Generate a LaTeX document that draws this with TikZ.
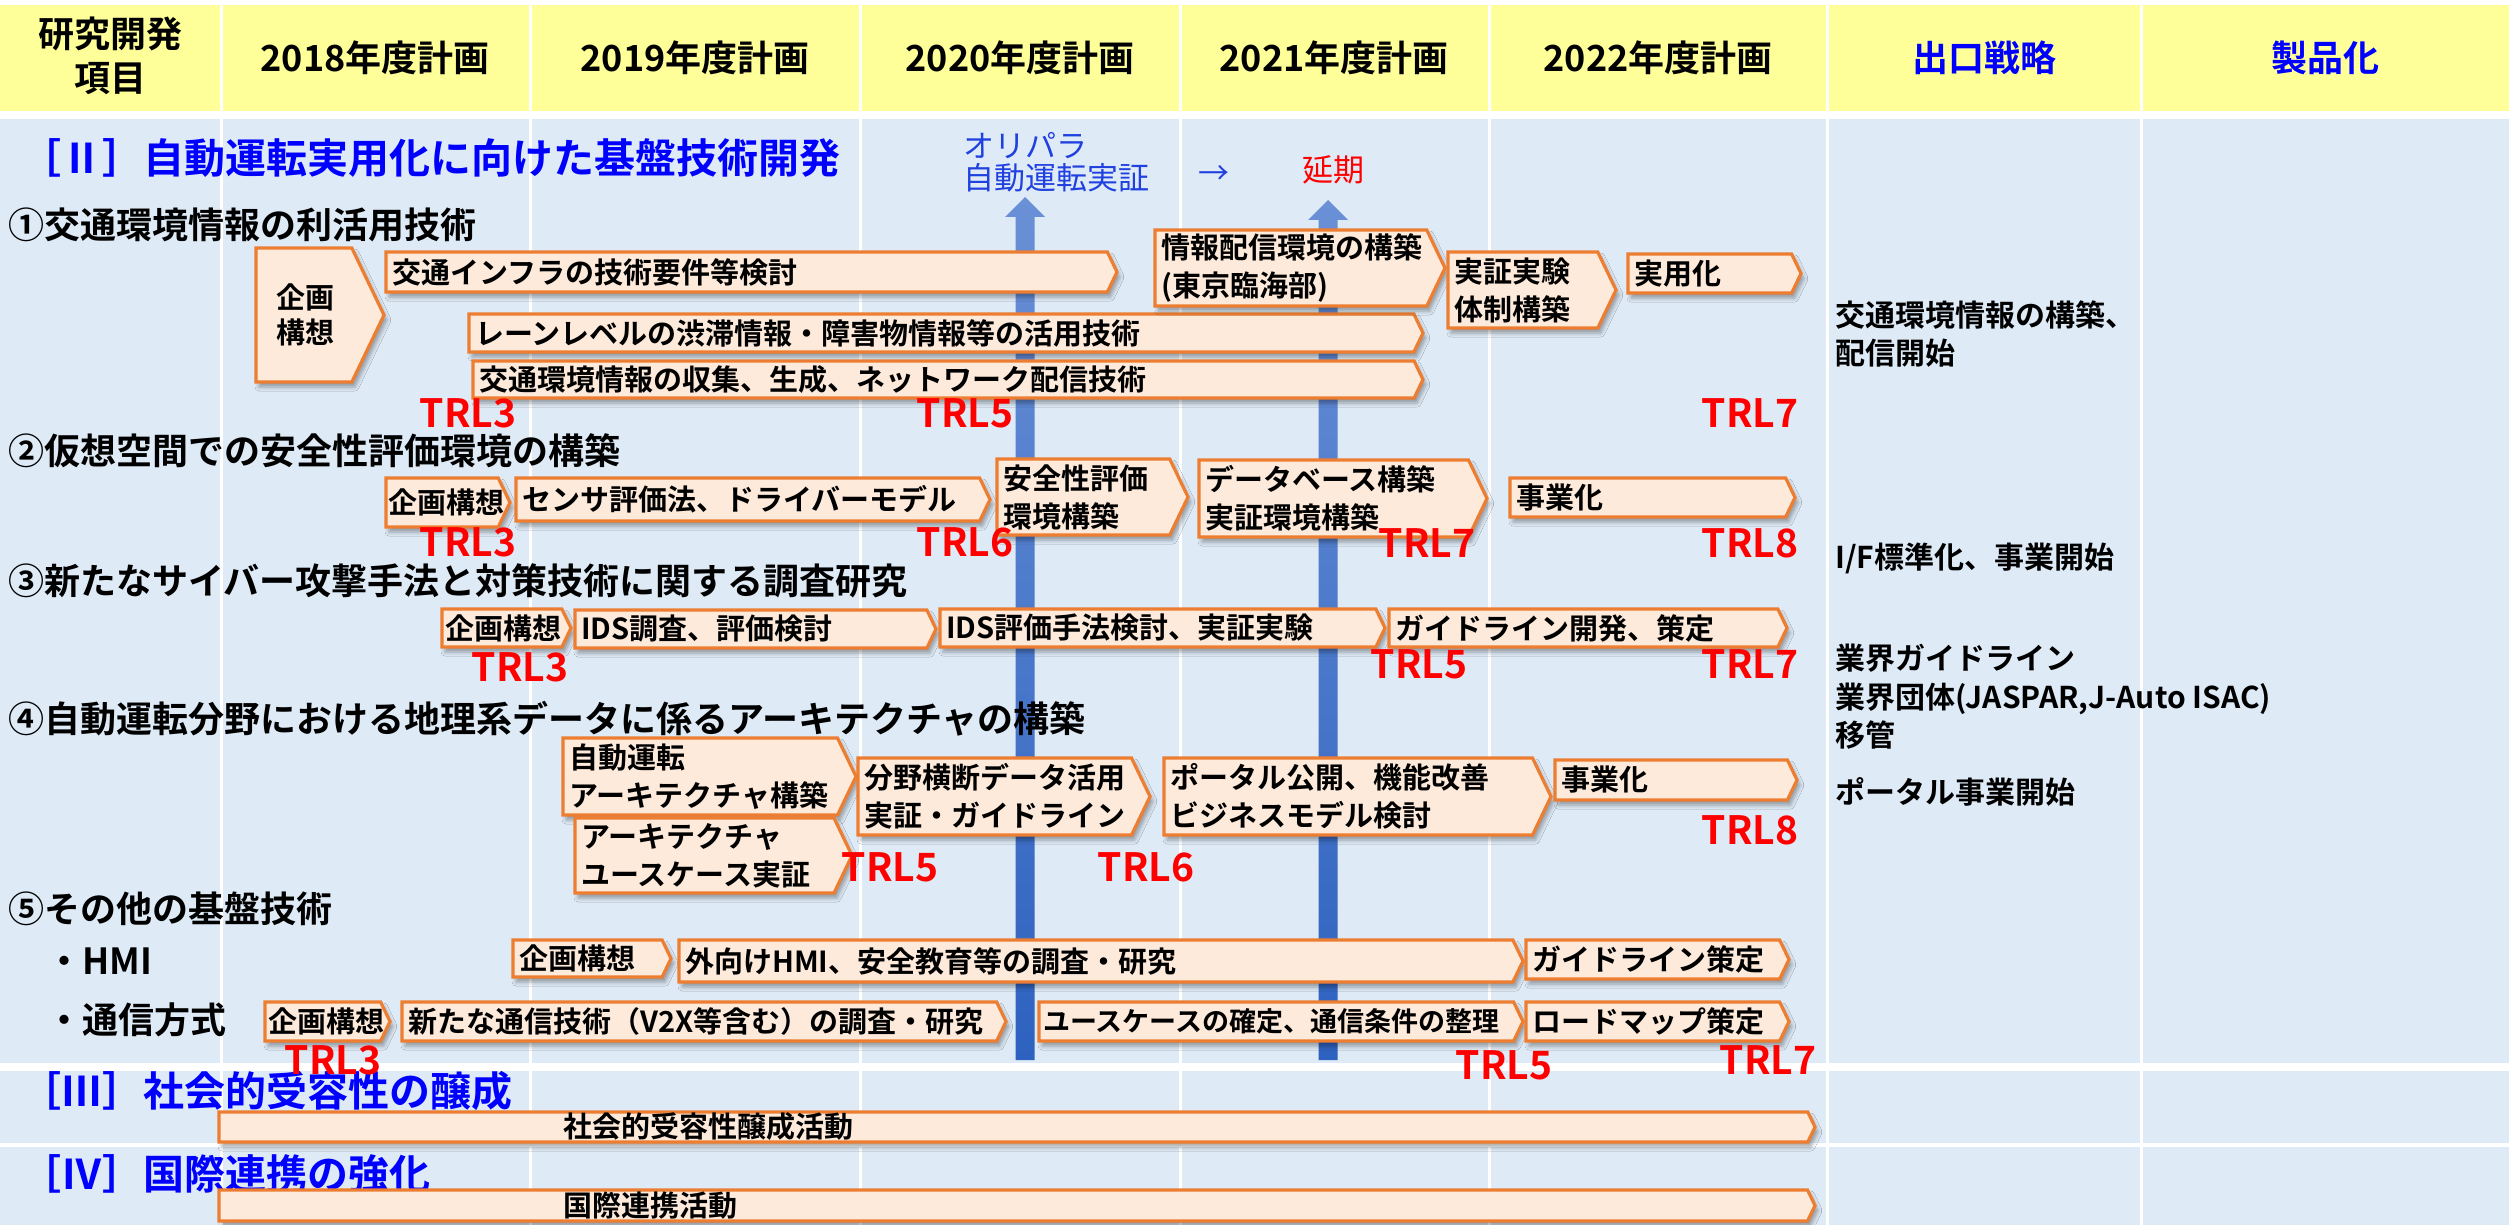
\documentclass[tikz,border=0pt]{standalone}
\usepackage{fontspec}
\setmainfont{Noto Sans CJK JP}[BoldFont={Noto Sans CJK JP Bold}]
\usetikzlibrary{shadows.blur}
\definecolor{hdr}{HTML}{FFFF99}
\definecolor{bodybg}{HTML}{DEEAF6}
\definecolor{pfill}{HTML}{FDEADA}
\definecolor{pedge}{HTML}{ED7D31}
\definecolor{trlred}{HTML}{FF0000}
\definecolor{ttlblue}{HTML}{0000FF}
\definecolor{olyblue}{HTML}{2040E0}
\definecolor{arrowtop}{HTML}{6A90D6}
\definecolor{arrowbot}{HTML}{2E62C0}
\newcommand\fsz[2]{\fontsize{#1}{#2}\selectfont}
\newcommand\pbox[7]{%
  \pgfmathsetmacro\pbTip{0.24*(#5-#3)}%
  \pgfmathsetmacro\pbMid{(#3+#5)/2}%
  \path[pboxshape] (#2,#3) -- ({#4-\pbTip},#3) -- (#4,\pbMid) -- ({#4-\pbTip},#5) -- (#2,#5) -- cycle;
  \node[btext,#7] (#1) at (#2,\pbMid) {#6};
}
\begin{document}
\begin{tikzpicture}[x=1pt,y=-1pt,
  pboxshape/.style={fill=pfill, draw=pedge, line width=3.2pt,
    blur shadow={shadow xshift=3pt, shadow yshift=-5pt, shadow blur radius=4pt, shadow opacity=35}},
  btext/.style={anchor=west, inner xsep=6pt, inner ysep=0pt, align=left, font=\bfseries\fsz{29}{38}},
  trl/.style={text=trlred, font=\bfseries\fsz{39}{39}, inner sep=0pt},
  sechead/.style={anchor=west, font=\bfseries\fsz{36}{40}, inner sep=0pt},
  ttl/.style={anchor=west, text=ttlblue, font=\bfseries\fsz{41}{44}, inner sep=0pt},
  exitt/.style={anchor=west, align=left, font=\bfseries\fsz{30}{38.5}, inner sep=0pt},
  hdrt/.style={align=center, font=\bfseries\fsz{36}{44}, inner sep=0pt},
  vline/.style={fill=white},
  upbar/.style={top color=arrowtop, bottom color=arrowbot}
]
\useasboundingbox (0,0) rectangle (2509,1225);
% background grid
\fill[white] (0,0) rectangle (2509,1225);
\fill[hdr] (0,5) rectangle (2509,111);
\fill[bodybg] (0,119) rectangle (2509,1225);
\foreach \x in {221,530,860,1180,1489,1827,2141}
  \fill[vline] (\x-1.5,5) rectangle (\x+1.5,1225);
\fill[vline] (0,1063) rectangle (2509,1071);
\fill[vline] (0,1143) rectangle (2509,1147);

% header
\node[hdrt] (h0) at (110,56) {研究開発\\項目};
\node[hdrt] (h1) at (375,58) {2018年度計画};
\node[hdrt] (h2) at (695,58) {2019年度計画};
\node[hdrt] (h3) at (1020,58) {2020年度計画};
\node[hdrt] (h4) at (1334,58) {2021年度計画};
\node[hdrt] (h5) at (1658,58) {2022年度計画};
\node[hdrt, text=ttlblue] (h6) at (1984,58) {出口戦略};
\node[hdrt, text=ttlblue] (h7) at (2325,58) {製品化};

% vertical milestone arrows
\shade[upbar] (1015.5,1060) -- (1015.5,217) -- (1005,217) -- (1025,197) -- (1045,217) -- (1034.5,217) -- (1034.5,1060) -- cycle;
\shade[upbar] (1318.5,1060) -- (1318.5,220) -- (1308,220) -- (1328,200) -- (1348,220) -- (1337.5,220) -- (1337.5,1060) -- cycle;
\node[anchor=west, align=left, text=olyblue, font=\fsz{31}{32}, inner sep=0pt] (oly) at (963,162) {オリパラ\\自動運転実証};
\node[text=olyblue, font=\fsz{31}{32}, inner sep=0pt] (arr) at (1214,175) {→};
\node[text=trlred, font=\fsz{31}{32}, inner sep=0pt] (enki) at (1333,170) {延期};

% titles and section headings
\node[ttl] (t2) at (20,158) {［Ⅱ］自動運転実用化に向けた基盤技術開発};
\node[sechead] (s1) at (8,225) {①交通環境情報の利活用技術};
\node[sechead] (s2) at (8,451) {②仮想空間での安全性評価環境の構築};
\node[sechead] (s3) at (8,581) {③新たなサイバー攻撃手法と対策技術に関する調査研究};
\node[sechead] (s4) at (8,719) {④自動運転分野における地理系データに係るアーキテクチャの構築};
\node[sechead] (s5) at (8,909) {⑤その他の基盤技術};
\node[sechead] (s5a) at (46,961) {・HMI};
\node[sechead] (s5b) at (46,1020) {・通信方式};
\node[ttl] (t3) at (20,1091) {［Ⅲ］社会的受容性の醸成};
\node[ttl] (t4) at (20,1174) {［Ⅳ］国際連携の強化};

% row 1
\pbox{a1}{256}{248}{384}{382}{企画\\構想}{anchor=center, xshift=49pt, align=center, font=\bfseries\fsz{29}{35}}
\pbox{a2}{386}{252}{1117}{292}{交通インフラの技術要件等検討}{}
\pbox{a3}{469}{314}{1423}{352}{レーンレベルの渋滞情報・障害物情報等の活用技術}{}
\pbox{a4}{473}{361}{1423}{398}{交通環境情報の収集、生成、ネットワーク配信技術}{}
\pbox{a5}{1155}{230}{1445}{306}{情報配信環境の構築\\(東京臨海部)}{}
\pbox{a6}{1448}{252}{1616}{328}{実証実験\\体制構築}{}
\pbox{a7}{1628}{254}{1801}{293}{実用化}{}

% row 2
\pbox{b1}{386}{478}{510}{527}{企画構想}{inner xsep=2pt}
\pbox{b2}{516}{478}{990}{521}{センサ評価法、ドライバーモデル}{}
\pbox{b3}{997}{459}{1188}{535}{安全性評価\\環境構築}{}
\pbox{b4}{1199}{460}{1487}{537}{データベース構築\\実証環境構築}{}
\pbox{b5}{1510}{478}{1795}{517}{事業化}{}

% row 3
\pbox{c1}{442}{609}{571}{647}{企画構想}{inner xsep=3pt}
\pbox{c2}{575}{610}{936}{648}{IDS調査、評価検討}{}
\pbox{c3}{940}{609}{1385}{647}{IDS評価手法検討、実証実験}{}
\pbox{c4}{1389}{609}{1787}{647}{ガイドライン開発、策定}{}

% row 4
\pbox{d1}{563}{738}{856}{815}{自動運転\\アーキテクチャ構築}{}
\pbox{d2}{575}{818}{852}{893}{アーキテクチャ\\ユースケース実証}{}
\pbox{d3}{858}{758}{1150}{835}{分野横断データ活用\\実証・ガイドライン}{}
\pbox{d4}{1164}{758}{1551}{835}{ポータル公開、機能改善\\ビジネスモデル検討}{}
\pbox{d5}{1555}{760}{1797}{800}{事業化}{}

% row 5
\pbox{e1}{513}{940}{671}{977}{企画構想}{}
\pbox{e2}{679}{940}{1523}{982}{外向けHMI、安全教育等の調査・研究}{}
\pbox{e3}{1526}{940}{1789}{979}{ガイドライン策定}{}
\pbox{f1}{265}{1002}{390}{1041}{企画構想}{inner xsep=3pt}
\pbox{f2}{402}{1002}{1006}{1041}{新たな通信技術（V2X等含む）の調査・研究}{}
\pbox{f3}{1039}{1002}{1523}{1041}{ユースケースの確定、通信条件の整理}{inner xsep=4pt, font=\bfseries\fsz{27}{38}}
\pbox{f4}{1526}{1002}{1789}{1041}{ロードマップ策定}{}

% bars
\pbox{g1}{219}{1112}{1815}{1142}{社会的受容性醸成活動}{xshift=338pt}
\pbox{g2}{219}{1190}{1815}{1221}{国際連携活動}{xshift=338pt}

% TRL labels
\node[trl] (r1a) at (468,413) {TRL3};
\node[trl] (r1b) at (965,413) {TRL5};
\node[trl] (r1c) at (1750,413) {TRL7};
\node[trl] (r2a) at (468,542) {TRL3};
\node[trl] (r2b) at (965,542) {TRL6};
\node[trl] (r2c) at (1427,543) {TRL7};
\node[trl] (r2d) at (1750,543) {TRL8};
\node[trl] (r3a) at (520,667) {TRL3};
\node[trl] (r3b) at (1419,664) {TRL5};
\node[trl] (r3c) at (1750,664) {TRL7};
\node[trl] (r4a) at (890,867) {TRL5};
\node[trl] (r4b) at (1146,867) {TRL6};
\node[trl] (r4c) at (1750,830) {TRL8};
\node[trl] (r5a) at (333,1060) {TRL3};
\node[trl] (r5b) at (1504,1065) {TRL5};
\node[trl] (r5c) at (1768,1060) {TRL7};

% exit strategy column
\node[exitt] (x1) at (1835,334) {交通環境情報の構築、\\配信開始};
\node[exitt] (x2) at (1835,558) {I/F標準化、事業開始};
\node[exitt] (x3) at (1835,697) {業界ガイドライン\\業界団体(JASPAR,J-Auto ISAC)\\移管};
\node[exitt] (x4) at (1835,792) {ポータル事業開始};
\end{tikzpicture}
\end{document}
